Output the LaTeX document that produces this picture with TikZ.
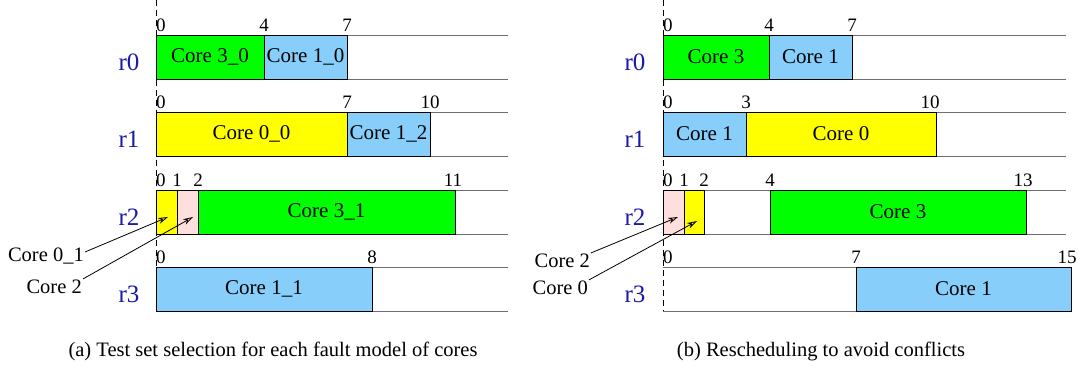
\documentclass[tikz,border=0pt]{standalone}
\usepackage{fontspec}
\setmainfont{Liberation Serif}
\usetikzlibrary{arrows.meta, fit, positioning}

\definecolor{coregreen}{RGB}{0,255,0}
\definecolor{coreblue}{RGB}{135,206,250}
\definecolor{coreyellow}{RGB}{255,255,0}
\definecolor{corepink}{RGB}{255,222,222}
\definecolor{rowblue}{RGB}{25,25,170}
\definecolor{trackgray}{RGB}{110,110,110}

\begin{document}
\begin{tikzpicture}[x=1pt, y=-1pt,
        slot/.style={rectangle, draw=black, line width=1pt, inner sep=0pt},
        slotlbl/.style={inner sep=0pt, font=\fontsize{21}{24}\selectfont},
        track/.style={draw=trackgray, line width=1pt},
        timeaxis/.style={dash pattern=on 6pt off 4pt, line width=0.9pt},
        tick/.style={anchor=base, inner sep=0pt, font=\fontsize{19}{21}\selectfont},
        rowlbl/.style={text=rowblue, inner sep=0pt, font=\fontsize{25}{28}\selectfont},
        note/.style={anchor=east, inner sep=1pt, font=\fontsize{20.5}{24}\selectfont},
        pointer/.style={-{Stealth[open, length=10pt, width=6pt]}, line width=0.8pt},
        caption/.style={anchor=base, font=\fontsize{20.5}{24}\selectfont}
    ]
        \useasboundingbox (0,0) rectangle (1087,368);

        % tracks of the four resources
        \foreach \t in {35,112,190,267} {
            \draw[track] (156,\t) -- (508,\t) (156,\t+44) -- (508,\t+44);
            \draw[track] (663,\t) -- (1066,\t) (663,\t+44) -- (1066,\t+44);
        }
        \draw[timeaxis] (156,0) -- (156,311);
        \draw[timeaxis] (663,0) -- (663,311);

        % (a) test set selection
        \node[slot, fill=coregreen, fit={(156,35) (264,79)}, label={[slotlbl]center:Core 3\_0}] (a0c3) {};
        \node[slot, fill=coreblue, fit={(264,35) (347,79)}, label={[slotlbl]center:Core 1\_0}] (a0c1) {};
        \node[slot, fill=coreyellow, fit={(156,112) (347,156)}, label={[slotlbl]center:Core 0\_0}] (a1c0) {};
        \node[slot, fill=coreblue, fit={(347,112) (430,156)}, label={[slotlbl]center:Core 1\_2}] (a1c1) {};
        \node[slot, fill=coreyellow, fit={(156,190) (177,234)}] (a2c0) {};
        \node[slot, fill=corepink, fit={(177,190) (198,234)}] (a2c2) {};
        \node[slot, fill=coregreen, fit={(198,190) (455,234)}, label={[slotlbl]center:Core 3\_1}] (a2c3) {};
        \node[slot, fill=coreblue, fit={(156,267) (372,311)}, label={[slotlbl]center:Core 1\_1}] (a3c1) {};

        % (b) rescheduling
        \node[slot, fill=coregreen, fit={(663,35) (769,79)}, label={[slotlbl]center:Core 3}] (b0c3) {};
        \node[slot, fill=coreblue, fit={(769,35) (852,79)}, label={[slotlbl]center:Core 1}] (b0c1) {};
        \node[slot, fill=coreblue, fit={(663,112) (746,156)}, label={[slotlbl]center:Core 1}] (b1c1) {};
        \node[slot, fill=coreyellow, fit={(746,112) (936,156)}, label={[slotlbl]center:Core 0}] (b1c0) {};
        \node[slot, fill=corepink, fit={(663,190) (684,234)}] (b2c2) {};
        \node[slot, fill=coreyellow, fit={(684,190) (704,234)}] (b2c0) {};
        \node[slot, fill=coregreen, fit={(770,190) (1026,234)}, label={[slotlbl]center:Core 3}] (b2c3) {};
        \node[slot, fill=coreblue, fit={(856,267) (1071,311)}, label={[slotlbl]center:Core 1}] (b3c1) {};

        % time marks
        \foreach \t in {35,112,190,267} {
            \node[tick, anchor=base west] (ta0-\t) at (156,\t-3.5) {0};
            \node[tick, anchor=base west] (tb0-\t) at (663,\t-3.5) {0};
        }
        \foreach \t/\x/\n in {35/264/4, 35/347/7, 112/347/7, 112/430/10, 190/177/1, 190/198/2, 190/453/11, 267/372/8}
            \node[tick] (ta-\t-\x) at (\x,\t-3.5) {\n};
        \foreach \t/\x/\n in {35/769/4, 35/852/7, 112/746/3, 112/930/10, 190/684/1, 190/704/2, 190/770/4, 190/1023/13, 267/856/7, 267/1067/15}
            \node[tick] (tb-\t-\x) at (\x,\t-3.5) {\n};

        % resource names
        \foreach \t/\r in {35/0, 112/1, 190/2, 267/3} {
            \node[rowlbl] (ar\r) at (129,\t+27) {r\r};
            \node[rowlbl] (br\r) at (635,\t+27) {r\r};
        }

        % small slots pointed out
        \node[note] (an0) at (85,256) {Core 0\_1};
        \node[note] (an2) at (83,287) {Core 2};
        \node[note] (bn2) at (591,261) {Core 2};
        \node[note] (bn0) at (589,288) {Core 0};
        \coordinate (atip0) at (168,217);
        \coordinate (atip2) at (193,217);
        \coordinate (btip2) at (678,217);
        \coordinate (btip0) at (697,221);
        \draw[pointer] ([yshift=4pt]an0.east) -- (atip0);
        \draw[pointer] (an2.north east) -- (atip2);
        \draw[pointer] (bn2.north east) -- (btip2);
        \draw[pointer] (bn0.north east) -- (btip0);

        \node[caption] (capa) at (273,356) {(a) Test set selection for each fault model of cores};
        \node[caption] (capb) at (821,356) {(b) Rescheduling to avoid conflicts};
    \end{tikzpicture}
\end{document}
